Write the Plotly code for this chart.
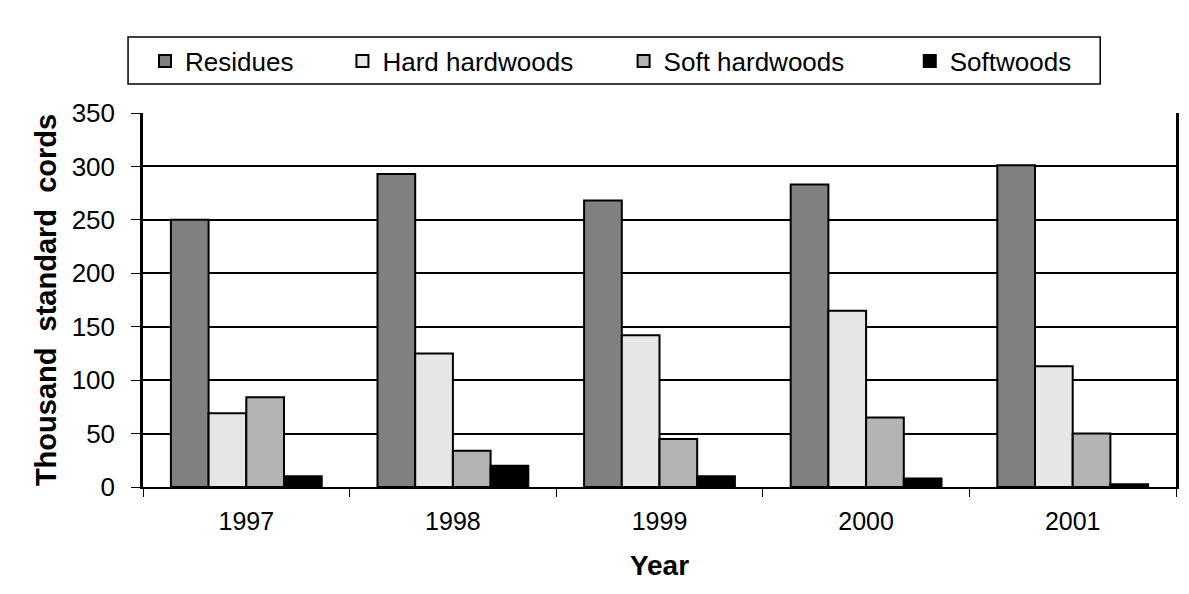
import plotly.graph_objects as go

years = ["1997", "1998", "1999", "2000", "2001"]
residues = [250, 293, 268, 283, 301]
hard_hardwoods = [69, 125, 142, 165, 113]
soft_hardwoods = [84, 34, 45, 65, 50]
softwoods = [10, 20, 10, 8, 2.5]

series = [
    ("Residues", residues, "#808080"),
    ("Hard hardwoods", hard_hardwoods, "#e6e6e6"),
    ("Soft hardwoods", soft_hardwoods, "#b3b3b3"),
    ("Softwoods", softwoods, "#000000"),
]

# page offset of the figure inside the browser body (8px body margin)
OFF = 8
W, H = 1189 - OFF, 594 - OFF
L = 143 - OFF
R = W - (1179 - OFF)
T = 113 - OFF
B = H - (487 - OFF)
PW, PH = W - L - R, H - T - B


def px(x_page):
    return (x_page - OFF - L) / PW


def py(y_page):
    return (H - B - (y_page - OFF)) / PH


FONT = "Liberation Sans, Arial, sans-serif"

fig = go.Figure()
legend_x_page = [145, 343, 625, 912]
for i, (name, vals, col) in enumerate(series):
    lg = "legend" if i == 0 else f"legend{i+1}"
    fig.add_trace(go.Bar(
        name=name, x=years, y=vals,
        marker=dict(color=col, line=dict(color="black", width=2)),
        legend=lg,
    ))

layout_legends = {}
for i in range(4):
    key = "legend" if i == 0 else f"legend{i+1}"
    layout_legends[key] = dict(
        x=px(legend_x_page[i]), y=py(61), xanchor="left", yanchor="middle",
        orientation="h", bgcolor="rgba(0,0,0,0)", borderwidth=0,
        font=dict(family=FONT, size=26, color="black"),
    )

fig.update_layout(
    width=W, height=H,
    margin=dict(l=L, r=R, t=T, b=B, pad=0),
    paper_bgcolor="white",
    plot_bgcolor="white",
    barmode="group", bargap=0.27, bargroupgap=0,
    showlegend=True,
    **layout_legends,
    xaxis=dict(
        type="category", tickson="boundaries", ticks="outside", ticklen=8,
        tickwidth=1, tickcolor="black",
        showline=True, linecolor="black", linewidth=2, mirror=False,
        showgrid=False,
        tickfont=dict(family=FONT, size=25, color="black"),
        ticklabelstandoff=11,
        title=dict(text="<b>Year</b>", font=dict(family=FONT, size=28, color="black"), standoff=21),
    ),
    yaxis=dict(
        range=[0, 350], tickvals=[0, 50, 100, 150, 200, 250, 300, 350],
        ticks="outside", ticklen=9, tickwidth=1, tickcolor="black",
        showline=True, linecolor="black", linewidth=2.5, mirror=True,
        showgrid=True, gridcolor="black", gridwidth=2,
        zeroline=False,
        tickfont=dict(family=FONT, size=26, color="black"),
        ticklabelstandoff=11,
        title=dict(text="<b>Thousand\u00a0 standard\u00a0 cords</b>",
                   font=dict(family=FONT, size=29, color="black"), standoff=7),
    ),
    shapes=[
        dict(type="rect", xref="paper", yref="paper",
             x0=px(128), x1=px(1103), y0=py(37), y1=py(84),
             fillcolor="rgba(0,0,0,0)", line=dict(color="black", width=1.5)),
    ],
)

fig.write_html("out.html")
